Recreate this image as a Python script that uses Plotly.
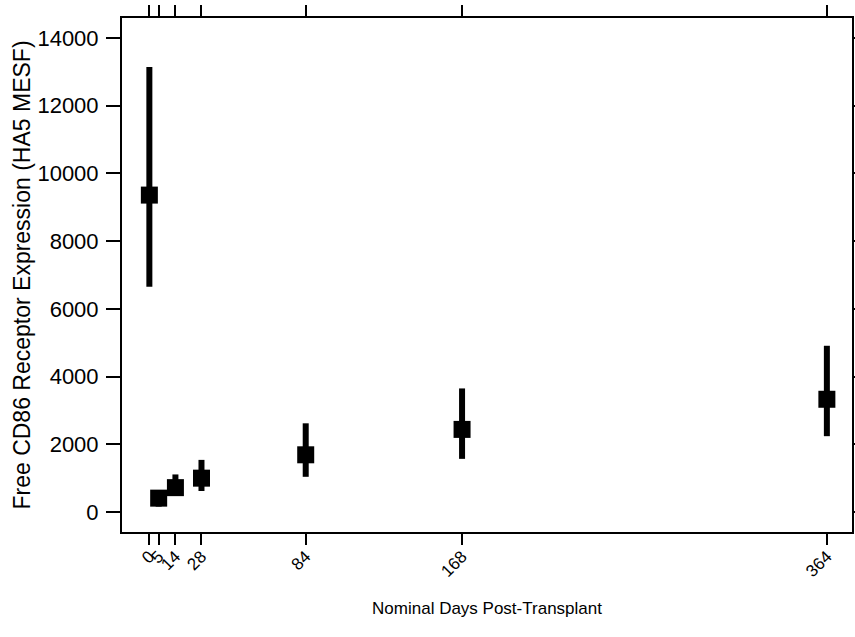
import plotly.graph_objects as go

days = [0, 5, 14, 28, 84, 168, 364]
mean_val = [9360, 410, 720, 1000, 1690, 2440, 3330]
upper_val = [13140, 560, 1110, 1540, 2620, 3650, 4910]
lower_val = [6650, 160, 480, 620, 1040, 1570, 2240]
x_ticks = [0, 5, 14, 28, 84, 168, 364]
y_ticks = [0, 2000, 4000, 6000, 8000, 10000, 12000, 14000]

err_plus = [u - m for u, m in zip(upper_val, mean_val)]
err_minus = [m - l for m, l in zip(mean_val, lower_val)]

FONT = "Liberation Sans, Arial, sans-serif"

fig = go.Figure()
fig.add_trace(go.Scatter(
    x=days, y=mean_val, mode="markers",
    marker=dict(symbol="square", size=17, color="black", line=dict(width=0)),
    error_y=dict(type="data", array=err_plus, arrayminus=err_minus,
                 thickness=6, width=0, color="black"),
    showlegend=False,
))

fig.update_layout(
    width=855, height=637,
    margin=dict(l=122, r=3, t=18, b=105),
    paper_bgcolor="white", plot_bgcolor="white",
    font=dict(family=FONT, color="black"),
)
fig.update_xaxes(
    range=[-14.7, 377.5], tickvals=x_ticks, ticktext=[str(v) for v in x_ticks],
    tickangle=-45, tickfont=dict(size=17, family=FONT),
    ticks="outside", ticklen=11, tickwidth=2, tickcolor="black", ticklabelstandoff=-5,
    showline=True, linewidth=2, linecolor="black", mirror="ticks",
    showgrid=False, zeroline=False,
    title=dict(text="Nominal Days Post-Transplant", font=dict(size=17, family=FONT), standoff=22),
    automargin=False,
)
fig.update_yaxes(
    range=[-590, 14590], tickvals=y_ticks, ticktext=[str(v) for v in y_ticks],
    tickfont=dict(size=22, family=FONT),
    ticks="outside", ticklen=14, tickwidth=2, tickcolor="black", ticklabelstandoff=3,
    showline=True, linewidth=2, linecolor="black", mirror="ticks",
    showgrid=False, zeroline=False,
    title=dict(text="Free CD86 Receptor Expression (HA5 MESF)", font=dict(size=23, family=FONT), standoff=0),
    automargin=False,
)

fig.write_html("out.html")
